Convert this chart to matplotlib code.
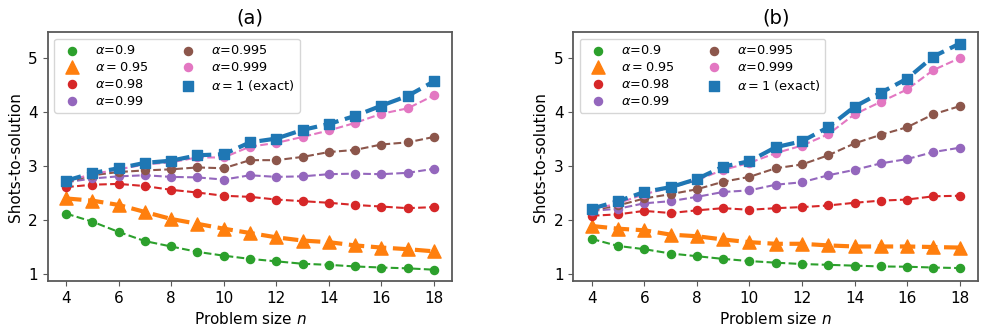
import numpy as np
import matplotlib
matplotlib.use('Agg')
import matplotlib.pyplot as plt

# Tamaños de problema
n = np.arange(4, 19)

# Panel (a)
a_09 = [2.12, 1.97, 1.78, 1.61, 1.51, 1.41, 1.34, 1.28, 1.235, 1.19, 1.17, 1.14, 1.12, 1.105, 1.08]
a_095 = [2.40, 2.36, 2.28, 2.15, 2.02, 1.93, 1.84, 1.76, 1.68, 1.62, 1.59, 1.53, 1.49, 1.46, 1.42]
a_098 = [2.61, 2.655, 2.67, 2.63, 2.56, 2.51, 2.45, 2.43, 2.38, 2.35, 2.32, 2.28, 2.25, 2.22, 2.24]
a_099 = [2.70, 2.77, 2.81, 2.83, 2.80, 2.79, 2.75, 2.83, 2.80, 2.81, 2.85, 2.86, 2.85, 2.875, 2.95]
a_0995 = [2.70, 2.83, 2.89, 2.92, 2.94, 2.975, 2.96, 3.11, 3.11, 3.17, 3.26, 3.30, 3.40, 3.44, 3.54]
a_0999 = [2.72, 2.85, 2.94, 3.03, 3.07, 3.16, 3.16, 3.36, 3.43, 3.54, 3.66, 3.80, 3.97, 4.07, 4.31]
a_exact = [2.73, 2.87, 2.96, 3.06, 3.10, 3.20, 3.22, 3.44, 3.51, 3.67, 3.78, 3.93, 4.12, 4.30, 4.57]

# Panel (b)
b_09 = [1.65, 1.52, 1.46, 1.38, 1.33, 1.28, 1.24, 1.21, 1.185, 1.17, 1.155, 1.14, 1.135, 1.12, 1.11]
b_095 = [1.89, 1.84, 1.81, 1.73, 1.70, 1.64, 1.59, 1.56, 1.56, 1.53, 1.51, 1.51, 1.51, 1.50, 1.49]
b_098 = [2.08, 2.105, 2.17, 2.13, 2.18, 2.22, 2.19, 2.22, 2.24, 2.27, 2.32, 2.36, 2.38, 2.44, 2.45]
b_099 = [2.17, 2.21, 2.31, 2.35, 2.43, 2.52, 2.55, 2.655, 2.70, 2.83, 2.93, 3.05, 3.13, 3.26, 3.34]
b_0995 = [2.18, 2.27, 2.40, 2.48, 2.57, 2.71, 2.80, 2.96, 3.03, 3.20, 3.42, 3.58, 3.72, 3.96, 4.11]
b_0999 = [2.19, 2.31, 2.48, 2.60, 2.74, 2.93, 3.06, 3.24, 3.38, 3.59, 3.96, 4.19, 4.42, 4.78, 5.00]
b_exact = [2.21, 2.35, 2.52, 2.61, 2.76, 2.99, 3.09, 3.35, 3.46, 3.72, 4.10, 4.36, 4.62, 5.03, 5.27]

etiquetas = [r'$\alpha$=0.9', r'$\alpha=0.95$', r'$\alpha$=0.98', r'$\alpha$=0.99',
             r'$\alpha$=0.995', r'$\alpha$=0.999', r'$\alpha=1$ (exact)']
colores = ['C2', 'C1', 'C3', 'C4', 'C5', 'C6', 'C0']
marcadores = ['o', '^', 'o', 'o', 'o', 'o', 's']
tam = [34, 90, 34, 34, 34, 34, 54]
grosor = [1.5, 3, 1.5, 1.5, 1.5, 1.5, 3]

paneles = {
    '(a)': [a_09, a_095, a_098, a_099, a_0995, a_0999, a_exact],
    '(b)': [b_09, b_095, b_098, b_099, b_0995, b_0999, b_exact],
}

fig = plt.figure(figsize=(9.87, 3.34), dpi=100)
ax1 = fig.add_axes([0.0483, 0.1587, 0.41, 0.7446])
ax2 = fig.add_axes([0.5809, 0.1587, 0.41, 0.7446], sharey=ax1)

for ax, (titulo, series) in zip([ax1, ax2], paneles.items()):
    for y, lab, c, m, s, lw in zip(series, etiquetas, colores, marcadores, tam, grosor):
        ax.plot(n, y, '--', color=c, lw=lw)
        ax.scatter(n, y, color=c, marker=m, s=s, label=lab, zorder=3)
    ax.set_title(titulo, fontsize=14)
    ax.set_xlabel('Problem size $n$', fontsize=11)
    ax.set_ylabel('Shots-to-solution', fontsize=11)
    ax.set_xticks(range(4, 19, 2))
    ax.set_yticks([1, 2, 3, 4, 5])
    ax.tick_params(labelsize=11, color='0.35')
    ax.yaxis.set_tick_params(labelleft=True)
    for sp in ax.spines.values():
        sp.set_color('0.35')
        sp.set_linewidth(1.3)
    ax.legend(ncol=2, loc='upper left', fontsize=9.3, labelspacing=0.3)

fig.savefig('out.png', dpi=100)
